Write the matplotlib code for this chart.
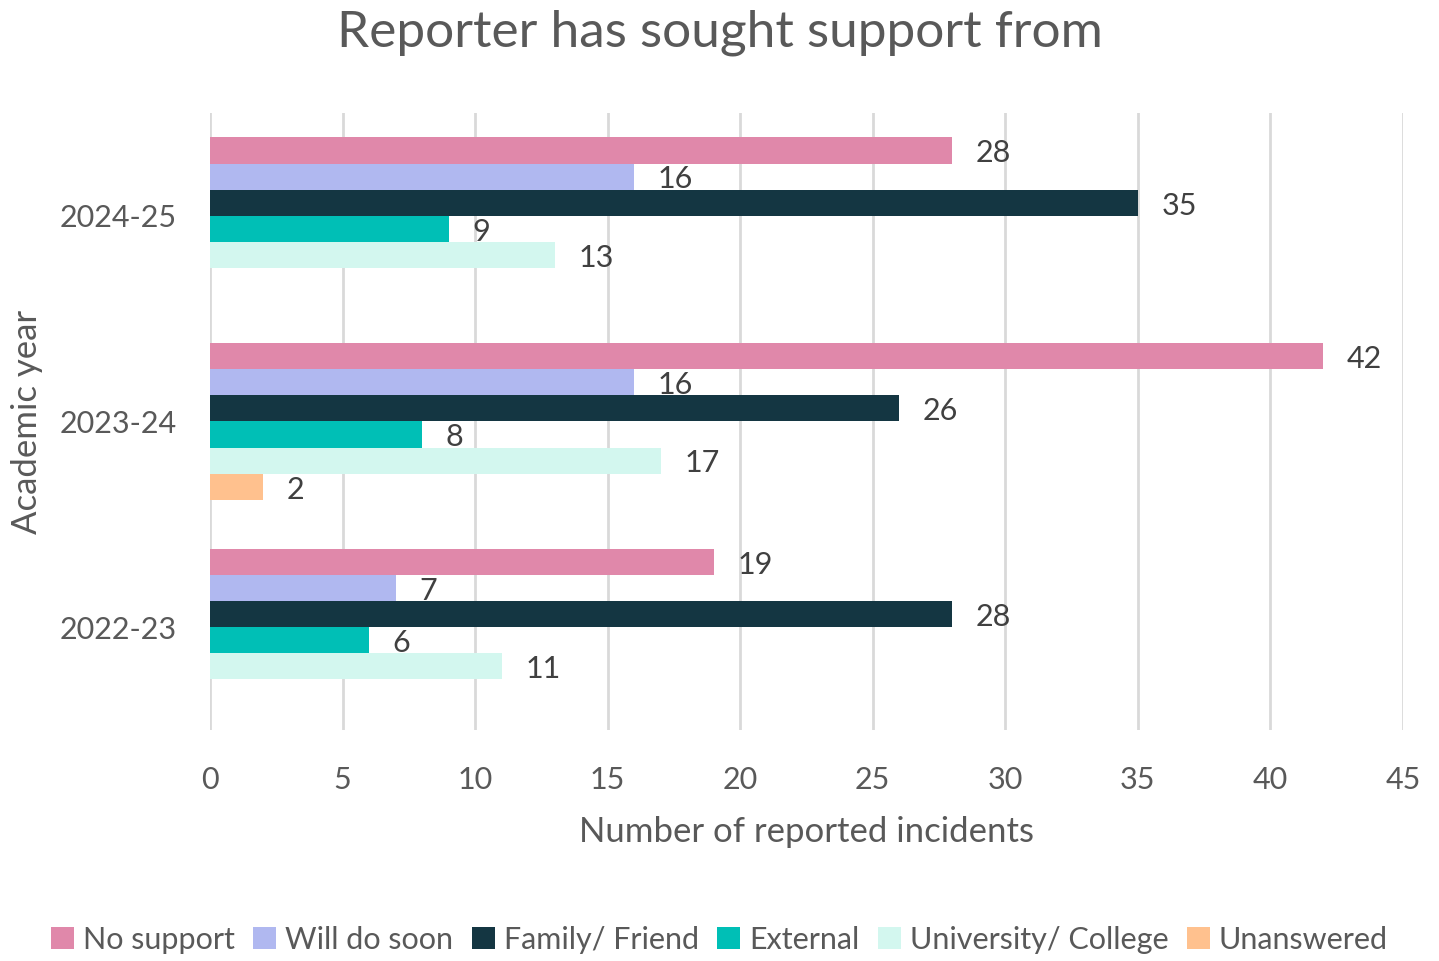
import matplotlib
matplotlib.use("Agg")
import matplotlib.pyplot as plt
import numpy as np

# academic years, bottom to top on the y axis
years = ["2022-23", "2023-24", "2024-25"]

series = ["No support", "Will do soon", "Family/ Friend", "External",
          "University/ College", "Unanswered"]

no_support = [19, 42, 28]
will_do_soon = [7, 16, 16]
family_friend = [28, 26, 35]
external = [6, 8, 9]
university_college = [11, 17, 13]
unanswered = [0, 2, 0]

colors = ["#E088AA", "#B0B8F0", "#143642", "#00BFB6", "#D3F7EF", "#FFC18E"]

values = [no_support, will_do_soon, family_friend, external,
          university_college, unanswered]

plt.rcParams["font.family"] = ["Lato", "DejaVu Sans"]
TXT = "#595959"

fig = plt.figure(figsize=(14.39, 9.61), dpi=100)
ax = fig.add_axes([0.1459, 0.2404, 0.8291, 0.6420])

y = np.arange(len(years))
h = 0.127
n = len(series)
for j, (name, vals, c) in enumerate(zip(series, values, colors)):
    pos = y + (n / 2 - 0.5 - j) * h
    bars = ax.barh(pos, vals, height=h, color=c, label=name, zorder=3)
    for b, v in zip(bars, vals):
        if v == 0:
            continue
        ax.annotate(str(v), xy=(v, b.get_y() + b.get_height() / 2),
                    xytext=(17, -2), textcoords="offset points",
                    ha="left", va="center", fontsize=22, color="#404040")

ax.set_xlim(0, 45)
ax.set_ylim(-0.5, 2.5)
ax.set_xticks(np.arange(0, 46, 5))
ax.set_yticks(y)
ax.set_yticklabels(years)
ax.tick_params(axis="both", length=0, labelsize=22, colors=TXT)
ax.tick_params(axis="x", pad=26)
ax.tick_params(axis="y", pad=24)
ax.grid(axis="x", color="#D9D9D9", linewidth=2, zorder=0)
for s in ax.spines.values():
    s.set_visible(False)

ax.set_xlabel("Number of reported incidents", fontsize=25, color=TXT, labelpad=16)
ax.set_ylabel("Academic year", fontsize=25, color=TXT, labelpad=12)
fig.suptitle("Reporter has sought support from", fontsize=37, color=TXT, y=0.99)

fig.legend(loc="center", bbox_to_anchor=(0.5, 0.022), ncol=6, frameon=False,
           fontsize=22, handlelength=0.75, handleheight=0.75, handletextpad=0.3,
           columnspacing=0.6, labelcolor=TXT)

fig.savefig("out.png", dpi=100)
